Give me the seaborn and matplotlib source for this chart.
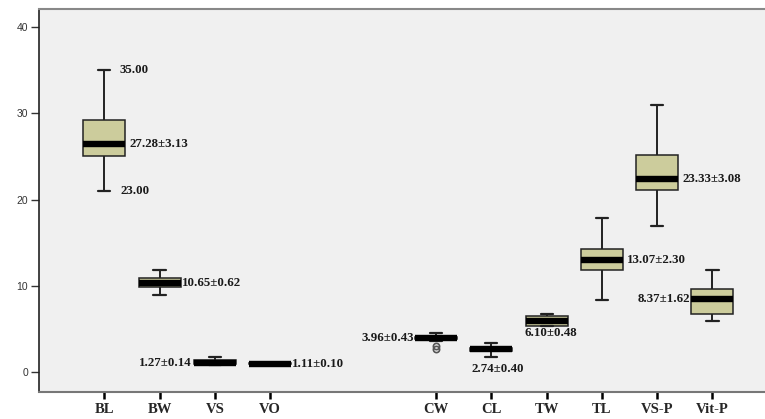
import numpy as np
import pandas as pd
import matplotlib
matplotlib.use('Agg')
import matplotlib.pyplot as plt
import seaborn as sns

# categorias e resumo de cinco números (min, Q1, mediana, Q3, max)
categorias = ['BL', 'BW', 'VS', 'VO', 'CW', 'CL', 'TW', 'TL', 'VS-P', 'Vit-P']
bl = [21.0, 25.1, 26.4, 29.25, 35.0]
bw = [8.9, 9.9, 10.35, 10.95, 11.9]
vs = [0.8, 1.0, 1.1, 1.4, 1.8]
vo = [0.9, 0.95, 1.0, 1.05, 1.1]
cw = [3.6, 3.8, 3.95, 4.1, 4.5]
cl = [1.75, 2.45, 2.65, 2.85, 3.4]
tw = [5.3, 5.4, 5.9, 6.5, 6.8]
tl = [8.4, 11.9, 13.0, 14.3, 17.9]
vsp = [16.9, 21.1, 22.45, 25.2, 31.0]
vitp = [5.9, 6.8, 8.45, 9.6, 11.9]
cw_outliers = [3.0, 2.7]

# rótulos (média ± dp)
rotulos = ['27.28±3.13', '10.65±0.62', '1.27±0.14', '1.11±0.10', '3.96±0.43',
           '2.74±0.40', '6.10±0.48', '13.07±2.30', '23.33±3.08', '8.37±1.62']
extremos_bl = ['35.00', '23.00']

valores = [bl, bw, vs, vo, cw, cl, tw, tl, vsp, vitp]
df = pd.DataFrame({
    'Medida': np.repeat(categorias, 5),
    'Valor': np.concatenate(valores),
})

# ordem com duas posições vazias entre VO e CW
ordem = ['BL', 'BW', 'VS', 'VO', '_a', '_b', 'CW', 'CL', 'TW', 'TL', 'VS-P', 'Vit-P']
posicoes = [ordem.index(c) for c in categorias]

sns.set_style('white')
plt.rcParams['font.family'] = ['Liberation Serif', 'DejaVu Serif']

fig = plt.figure(figsize=(7.65, 4.19), dpi=100)
ax = fig.add_axes([39 / 765, 1 - 392 / 419, 1 - 39 / 765, (392 - 9) / 419])
ax.set_facecolor('#f0f0f0')

sns.boxplot(data=df, x='Medida', y='Valor', order=ordem, color='#cccc9c', saturation=1,
            width=0.76, whis=(0, 100), linecolor='#222222', linewidth=1.1,
            medianprops={'color': 'black', 'linewidth': 4.6},
            whiskerprops={'linewidth': 1.4}, capprops={'linewidth': 1.6},
            ax=ax)

# encurtar as barras dos whiskers (caps)
for ln in ax.lines:
    xd = np.asarray(ln.get_xdata(), dtype=float)
    yd = np.asarray(ln.get_ydata(), dtype=float)
    if len(xd) == 2 and yd[0] == yd[1] and 0 < (xd[1] - xd[0]) < 0.5:
        c = xd.mean()
        ln.set_xdata([c - 0.11, c + 0.11])

# outliers de CW
ax.plot([ordem.index('CW')] * len(cw_outliers), cw_outliers, 'o', ms=4.5,
        mfc='none', mec='#555555', mew=1.2)

# Anotações
fonte = dict(fontsize=9.3, fontweight='bold', color='#1a1a1a', va='center')
med = [v[2] for v in valores]
# (dx em pontos, y, alinhamento)
lugar = [
    (18, med[0], 'left'), (16, med[1], 'left'), (-17, med[2], 'right'),
    (16, med[3] - 0.1, 'left'), (-16, med[4], 'right'), (5, 0.35, 'center'),
    (3, 4.5, 'center'), (18, med[7], 'left'), (18, med[8], 'left'),
    (-16, med[9], 'right'),
]
for p, txt, (dx, y, ha) in zip(posicoes, rotulos, lugar):
    ax.annotate(txt, (p, y), xytext=(dx, 0), textcoords='offset points', ha=ha, **fonte)
ax.annotate(extremos_bl[0], (0, bl[4]), xytext=(11, 0), textcoords='offset points', ha='left', **fonte)
ax.annotate(extremos_bl[1], (0, bl[0]), xytext=(12, 0), textcoords='offset points', ha='left', **fonte)

ax.set_xlim(-1.18, 11.95)
ax.set_ylim(-2.3, 42.1)
ax.set_xticks(posicoes, categorias, fontsize=10.5, fontweight='bold')
ax.set_yticks([0, 10, 20, 30, 40])
ax.set_yticklabels(['0', '10', '20', '30', '40'], family='Liberation Sans', fontsize=7.5, color='#333333')
ax.set_xlabel('')
ax.set_ylabel('')
ax.tick_params(axis='x', bottom=True, length=5, width=1.8, color='black', pad=3)
ax.tick_params(axis='y', left=True, length=6, width=1, color='#333333', pad=2)

ax.spines['right'].set_visible(False)
ax.spines['left'].set_color('#222222')
ax.spines['left'].set_linewidth(1.2)
ax.spines['bottom'].set_color('#777777')
ax.spines['bottom'].set_linewidth(1.5)
ax.spines['top'].set_color('#888888')
ax.spines['top'].set_linewidth(1.5)

plt.savefig('out.png', dpi=100)
